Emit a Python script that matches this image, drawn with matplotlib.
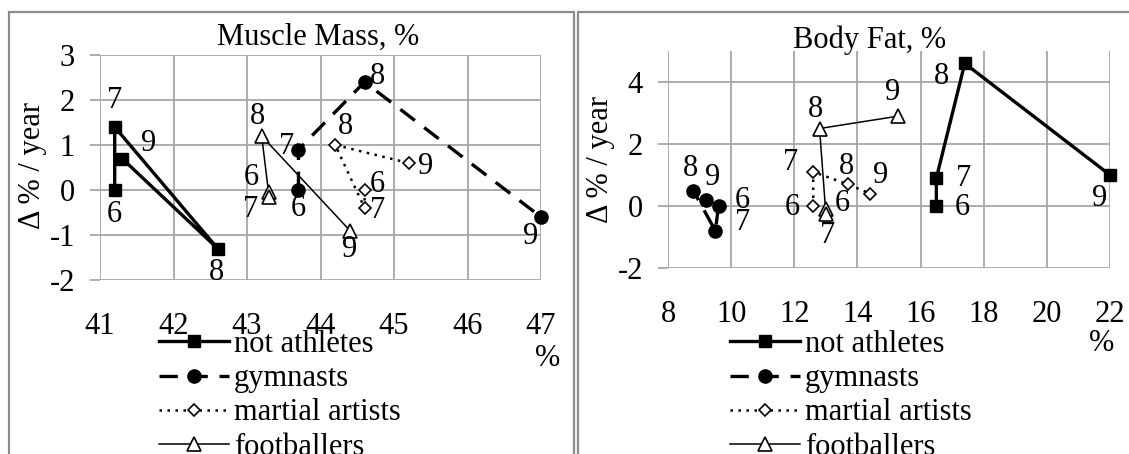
import matplotlib
matplotlib.use('Agg')
import matplotlib.pyplot as plt
from matplotlib.patches import Rectangle

plt.rcParams['font.family'] = ['Liberation Serif', 'DejaVu Serif']
plt.rcParams['font.size'] = 22
plt.rcParams['axes.unicode_minus'] = False

W, H = 1129, 454

groups = ['not athletes', 'gymnasts', 'martial artists', 'footballers']
ages = ['6', '7', '8', '9']

# muscle mass, % (x) and its yearly change (y), ages 6..9
muscle_x = {
    'not athletes': [41.2, 41.2, 42.6, 41.3],
    'gymnasts': [43.7, 43.7, 44.6, 47.0],
    'martial artists': [44.6, 44.6, 44.2, 45.2],
    'footballers': [43.3, 43.3, 43.2, 44.4],
}
muscle_y = {
    'not athletes': [0.0, 1.4, -1.3, 0.7],
    'gymnasts': [0.0, 0.9, 2.4, -0.6],
    'martial artists': [0.0, -0.4, 1.0, 0.6],
    'footballers': [-0.05, -0.15, 1.2, -0.9],
}

# body fat, % (x) and its yearly change (y), ages 6..9
fat_x = {
    'not athletes': [16.5, 16.5, 17.4, 22.0],
    'gymnasts': [9.6, 9.5, 8.8, 9.2],
    'martial artists': [12.6, 12.6, 13.7, 14.4],
    'footballers': [13.0, 13.0, 12.8, 15.3],
}
fat_y = {
    'not athletes': [0.0, 0.9, 4.6, 1.0],
    'gymnasts': [0.0, -0.8, 0.5, 0.2],
    'martial artists': [0.0, 1.1, 0.7, 0.4],
    'footballers': [-0.1, -0.25, 2.5, 2.9],
}

styles = {
    'not athletes': dict(color='black', lw=2.4, ls='-', marker='s', ms=8.5, mfc='black'),
    'gymnasts': dict(color='black', lw=2.4, ls=(0, (5.5, 3.5)), marker='o', ms=9.5, mfc='black'),
    'martial artists': dict(color='black', lw=1.8, ls=(0, (1, 2.2)), marker='D', ms=6.5,
                            mfc='white', mew=1.2),
    'footballers': dict(color='black', lw=1.1, ls='-', marker='^', ms=10, mfc='white', mew=1.2),
}

# age label offsets in pixels, per group, ages 6..9
muscle_off = {
    'not athletes': [(0, -25), (0, 26), (-1, -24), (27, 15)],
    'gymnasts': [(0, -19), (-12, 3), (13, 5), (-10, -20)],
    'martial artists': [(13, 6), (13, -3), (10, 18), (17, -3)],
    'footballers': [(-18, 15), (-18, -13), (-4, 20), (0, -19)],
}
fat_off = {
    'not athletes': [(26, -1), (27, 0), (-23, -13), (-10, -23)],
    'gymnasts': [(24, 6), (27, 8), (-3, 22), (7, 22)],
    'martial artists': [(-21, -1), (-23, 9), (-1, 18), (11, 18)],
    'footballers': [(16, 6), (2, -22), (-4, 19), (-6, 24)],
}

fig = plt.figure(figsize=(W / 100, H / 100), dpi=100)


def px_axes(x0, x1, y0, y1):
    return fig.add_axes([x0 / W, 1 - y1 / H, (x1 - x0) / W, (y1 - y0) / H])


def draw_panel(ax, xs, ys, offs, xlim, ylim, xticks, yticks, title, title_xy, pct_xy, leg_x):
    for g in groups:
        ax.plot(xs[g], ys[g], label=g, clip_on=False, zorder=3, **styles[g])
        for a, x, y, o in zip(ages, xs[g], ys[g], offs[g]):
            ax.annotate(a, (x, y), xytext=o, textcoords='offset pixels',
                        ha='center', va='center', fontsize=22, zorder=4,
                        annotation_clip=False)
    ax.set_xlim(*xlim)
    ax.set_ylim(*ylim)
    ax.set_xticks(xticks)
    ax.set_yticks(yticks)
    ax.grid(True, color='#a6a6a6', lw=1.3)
    ax.set_axisbelow(True)
    for s in ax.spines.values():
        s.set_visible(False)
    ax.tick_params(axis='x', length=0, pad=23)
    ax.tick_params(axis='y', length=7, width=1.3, color='#a6a6a6', pad=11)
    ax.set_ylabel('Δ % / year')
    ax.set_xlabel('%')
    ax.xaxis.set_label_coords(*pct_xy)
    ax.text(title_xy[0], title_xy[1], title, transform=ax.transAxes,
            ha='center', va='center', fontsize=22)
    ax.legend(loc='upper left', bbox_to_anchor=(leg_x / W, 1 - 330 / H),
              bbox_transform=fig.transFigure, frameon=False,
              borderpad=0, borderaxespad=0, labelspacing=0.17, handlelength=2.3,
              handletextpad=0.15, fontsize=22)


ax1 = px_axes(100, 541, 55, 280)
draw_panel(ax1, muscle_x, muscle_y, muscle_off, (41, 47), (-2, 3),
           range(41, 48), range(-2, 4), 'Muscle Mass, %', (0.494, 1.08), (1.014, -0.284), 159)
ax1.yaxis.set_label_coords(-0.12, 0.51)

ax2 = px_axes(668, 1110, 51, 268)
draw_panel(ax2, fat_x, fat_y, fat_off, (8, 22), (-2, 5),
           range(8, 23, 2), range(-2, 5, 2), 'Body Fat, %', (0.457, 1.051), (0.982, -0.281), 730)
ax2.yaxis.set_label_coords(-0.12, 0.5)

# chart area frames
for x0, x1 in [(9, 574), (578, 1140)]:
    fig.add_artist(Rectangle((x0 / W, -0.05), (x1 - x0) / W, 1.05 - 12 / H,
                             transform=fig.transFigure, fill=False,
                             edgecolor='#8c8c8c', lw=1.6))

fig.savefig('out.png', dpi=100)
